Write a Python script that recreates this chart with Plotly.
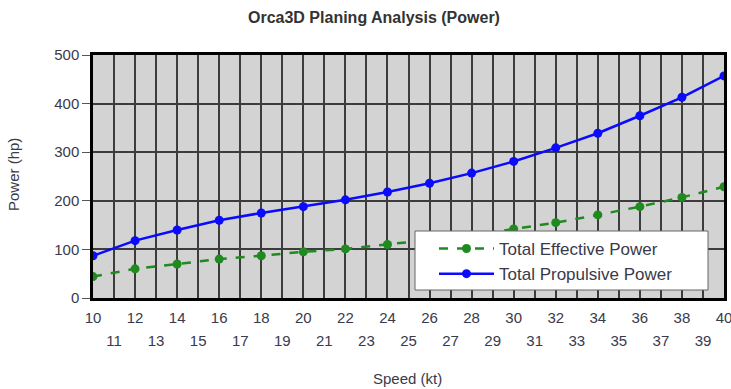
import plotly.graph_objects as go

speed = [10, 12, 14, 16, 18, 20, 22, 24, 26, 28, 30, 32, 34, 36, 38, 40]
effective_power = [44, 60, 70, 80, 87, 95, 101, 110, 119, 129, 142, 155, 171, 188, 207, 229]
propulsive_power = [87, 118, 140, 160, 175, 188, 202, 218, 236, 257, 281, 309, 339, 375, 413, 457]

x_ticks_all = list(range(10, 41))
x_ticks_odd = list(range(11, 40, 2))
y_ticks = [0, 100, 200, 300, 400, 500]

FONT = "Liberation Sans, Arial, sans-serif"
TXT = "#3a3a4a"
W, H = 731, 389
ML, MR, MT, MB = 93, 7, 55, 91
pw, ph = W - ML - MR, H - MT - MB


def px(x):
    return (x - ML) / pw


def py(y):
    return (H - MB - y) / ph


fig = go.Figure()
fig.add_trace(go.Scatter(
    x=speed, y=effective_power, name="Total Effective Power",
    mode="lines+markers",
    line=dict(color="#1f8a1f", width=2.5, dash="dash"),
    marker=dict(color="#1f8a1f", size=9, symbol="circle"),
))
fig.add_trace(go.Scatter(
    x=speed, y=propulsive_power, name="Total Propulsive Power",
    mode="lines+markers",
    line=dict(color="#0a0aff", width=2.5),
    marker=dict(color="#0a0aff", size=9, symbol="circle"),
))
# carrier trace for the second (odd) tick label row
fig.add_trace(go.Scatter(
    x=[speed[0], speed[-1]], y=[None, None], xaxis="x2", mode="lines",
    showlegend=False, hoverinfo="skip",
))

fig.update_layout(
    width=W, height=H,
    margin=dict(l=ML, r=MR, t=MT, b=MB, autoexpand=False),
    paper_bgcolor="white",
    plot_bgcolor="#d3d3d3",
    font=dict(family=FONT, size=15, color=TXT),
    showlegend=True,
    legend=dict(
        x=px(434), y=py(231), xanchor="left", yanchor="top",
        bgcolor="rgba(0,0,0,0)", borderwidth=0,
        font=dict(family=FONT, size=17, color=TXT),
        tracegroupgap=0, itemwidth=55,
    ),
    shapes=[
        dict(type="rect", xref="paper", yref="paper",
             x0=px(415), x1=px(708), y0=py(231), y1=py(290),
             fillcolor="white", line=dict(color="#666666", width=1),
             layer="above"),
    ],
    annotations=[
        dict(text="<b>Orca3D Planing Analysis (Power)</b>", x=px(374), y=py(18),
             xref="paper", yref="paper", showarrow=False,
             xanchor="center", yanchor="middle",
             font=dict(size=16, color="#333333", family=FONT)),
        dict(text="Speed (kt)", x=px(407), y=py(378), xref="paper", yref="paper",
             showarrow=False, xanchor="center", yanchor="middle",
             font=dict(size=15, color=TXT, family=FONT)),
        dict(text="Power (hp)", x=px(13), y=py(175), xref="paper", yref="paper",
             showarrow=False, textangle=-90, xanchor="center", yanchor="middle",
             font=dict(size=15, color=TXT, family=FONT)),
    ],
    xaxis=dict(
        range=[10, 40], tickmode="array", tickvals=x_ticks_all,
        ticktext=[str(v) if v % 2 == 0 else "" for v in x_ticks_all],
        showgrid=True, gridcolor="#3c3c3c", gridwidth=1.5,
        showline=True, linecolor="black", linewidth=2.5, mirror=True,
        ticks="", zeroline=False, automargin=False, ticklabelstandoff=4,
        ticklabeloverflow="allow",
        tickfont=dict(size=15, color=TXT, family=FONT),
    ),
    xaxis2=dict(
        overlaying="x", side="bottom", anchor="y", range=[10, 40],
        tickmode="array", tickvals=x_ticks_odd,
        ticktext=[str(v) for v in x_ticks_odd],
        showgrid=False, showline=False, zeroline=False, ticks="",
        ticklabelstandoff=32, automargin=False, ticklabeloverflow="allow",
        tickfont=dict(size=15, color=TXT, family=FONT),
    ),
    yaxis=dict(
        range=[0, 500], tickmode="array", tickvals=y_ticks,
        showgrid=True, gridcolor="#3c3c3c", gridwidth=1.5,
        showline=True, linecolor="black", linewidth=2.5, mirror=True,
        ticks="outside", ticklen=8, tickcolor="#555555", zeroline=False,
        automargin=False,
        tickfont=dict(size=15, color=TXT, family=FONT),
    ),
)

fig.write_html("out.html", config={"displayModeBar": False},
               post_script="document.body.style.margin='0';")
